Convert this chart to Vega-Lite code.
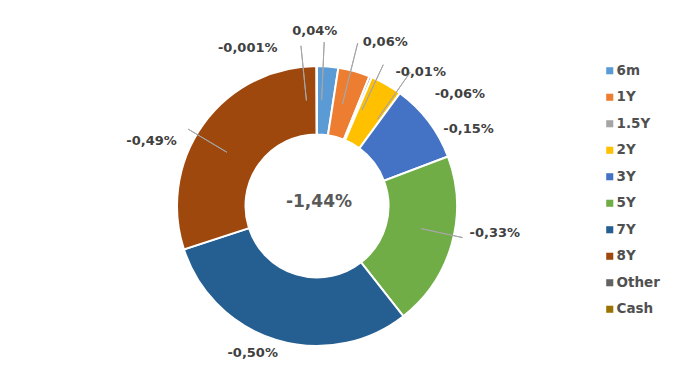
{
  "$schema": "https://vega.github.io/schema/vega-lite/v6.json",
  "width": 634,
  "height": 364,
  "autosize": {"type": "none"},
  "padding": {"left": 0, "top": 24, "right": 47, "bottom": 0},
  "background": "white",
  "config": {"view": {"stroke": null}},
  "layer": [
    {
      "data": {"values": [
        {"name": "6m", "order": 1, "value": 0.04, "label": "0,04%"},
        {"name": "1Y", "order": 2, "value": 0.06, "label": "0,06%"},
        {"name": "1.5Y", "order": 3, "value": 0.005, "label": "-0,01%"},
        {"name": "2Y", "order": 4, "value": 0.06, "label": "-0,06%"},
        {"name": "3Y", "order": 5, "value": 0.15, "label": "-0,15%"},
        {"name": "5Y", "order": 6, "value": 0.33, "label": "-0,33%"},
        {"name": "7Y", "order": 7, "value": 0.50, "label": "-0,50%"},
        {"name": "8Y", "order": 8, "value": 0.49, "label": "-0,49%"},
        {"name": "Other", "order": 9, "value": 0.001, "label": "-0,001%"},
        {"name": "Cash", "order": 10, "value": 0, "label": ""}
      ]},
      "transform": [
        {"fold": ["value", "value"], "as": ["half", "v"]},
        {"window": [{"op": "row_number", "as": "rn"}], "groupby": ["name"]},
        {"stack": "v", "groupby": [], "sort": [{"field": "order", "order": "ascending"}, {"field": "rn", "order": "ascending"}], "offset": "normalize", "as": ["s0", "s1"]}
      ],
      "resolve": {"scale": {"theta": "independent"}},
      "layer": [
        {
          "transform": [{"filter": "datum.rn === 1"}],
          "mark": {"type": "arc", "innerRadius": 71.5, "outerRadius": 140, "stroke": "white", "strokeWidth": 2},
          "encoding": {
            "theta": {"field": "value", "type": "quantitative", "stack": true},
            "order": {"field": "order", "type": "quantitative"},
            "color": {
              "field": "name", "type": "nominal",
              "scale": {
                "domain": ["6m", "1Y", "1.5Y", "2Y", "3Y", "5Y", "7Y", "8Y", "Other", "Cash"],
                "range": ["#5B9BD5", "#ED7D31", "#A5A5A5", "#FFC000", "#4472C4", "#70AD47", "#255E91", "#9E480E", "#636363", "#997300"]
              },
              "legend": {
                "orient": "none", "legendX": 603, "legendY": 40, "title": null,
                "symbolType": "square", "symbolSize": 50, "symbolStrokeWidth": 0,
                "labelFont": "DejaVu Sans", "labelFontSize": 13.5, "labelFontWeight": "bold", "labelColor": "#505050",
                "rowPadding": 11.5, "labelOffset": 0
              }
            }
          }
        },
        {
          "transform": [{"filter": "datum.rn === 2 && datum.name === 'Other'"}],
          "mark": {"type": "arc", "innerRadius": 106, "outerRadius": 161, "thetaOffset": -0.098, "theta2Offset": -0.098, "stroke": "#A6A6A6", "strokeWidth": 1, "fill": "transparent"},
          "encoding": {"theta": {"field": "s0", "type": "quantitative", "stack": null, "scale": {"domain": [0, 1]}}, "theta2": {"field": "s0"}}
        },
        {
          "transform": [{"filter": "datum.rn === 2 && datum.name === '6m'"}],
          "mark": {"type": "arc", "innerRadius": 106, "outerRadius": 164, "thetaOffset": -0.033, "theta2Offset": -0.033, "stroke": "#A6A6A6", "strokeWidth": 1, "fill": "transparent"},
          "encoding": {"theta": {"field": "s0", "type": "quantitative", "stack": null, "scale": {"domain": [0, 1]}}, "theta2": {"field": "s0"}}
        },
        {
          "transform": [{"filter": "datum.rn === 2 && datum.name === '1Y'"}],
          "mark": {"type": "arc", "innerRadius": 105, "outerRadius": 168, "thetaOffset": -0.024, "theta2Offset": -0.024, "stroke": "#A6A6A6", "strokeWidth": 1, "fill": "transparent"},
          "encoding": {"theta": {"field": "s0", "type": "quantitative", "stack": null, "scale": {"domain": [0, 1]}}, "theta2": {"field": "s0"}}
        },
        {
          "transform": [{"filter": "datum.rn === 2 && datum.name === '1.5Y'"}],
          "mark": {"type": "arc", "innerRadius": 106, "outerRadius": 156, "thetaOffset": 0.045, "theta2Offset": 0.045, "stroke": "#A6A6A6", "strokeWidth": 1, "fill": "transparent"},
          "encoding": {"theta": {"field": "s0", "type": "quantitative", "stack": null, "scale": {"domain": [0, 1]}}, "theta2": {"field": "s0"}}
        },
        {
          "transform": [{"filter": "datum.rn === 2 && datum.name === '2Y'"}],
          "mark": {"type": "arc", "innerRadius": 106, "outerRadius": 163, "thetaOffset": 0.09, "theta2Offset": 0.09, "stroke": "#A6A6A6", "strokeWidth": 1, "fill": "transparent"},
          "encoding": {"theta": {"field": "s0", "type": "quantitative", "stack": null, "scale": {"domain": [0, 1]}}, "theta2": {"field": "s0"}}
        },
        {
          "transform": [{"filter": "datum.rn === 2 && datum.name === '5Y'"}],
          "mark": {"type": "arc", "innerRadius": 107, "outerRadius": 149, "thetaOffset": -0.059, "theta2Offset": -0.059, "stroke": "#A6A6A6", "strokeWidth": 1, "fill": "transparent"},
          "encoding": {"theta": {"field": "s0", "type": "quantitative", "stack": null, "scale": {"domain": [0, 1]}}, "theta2": {"field": "s0"}}
        },
        {
          "transform": [{"filter": "datum.rn === 2 && datum.name === '8Y'"}],
          "mark": {"type": "arc", "innerRadius": 105, "outerRadius": 150, "thetaOffset": -0.088, "theta2Offset": -0.088, "stroke": "#A6A6A6", "strokeWidth": 1, "fill": "transparent"},
          "encoding": {"theta": {"field": "s0", "type": "quantitative", "stack": null, "scale": {"domain": [0, 1]}}, "theta2": {"field": "s0"}}
        },
        {
          "transform": [{"filter": "datum.rn === 2 && datum.name === 'Other'"}],
          "mark": {"type": "text", "radius": 140, "dx": -69, "dy": -18, "font": "DejaVu Sans", "fontWeight": "bold", "fontSize": 13, "color": "#404040"},
          "encoding": {"theta": {"field": "s0", "type": "quantitative", "stack": null, "scale": {"domain": [0, 1]}}, "text": {"field": "label"}}
        },
        {
          "transform": [{"filter": "datum.rn === 2 && datum.name === '6m'"}],
          "mark": {"type": "text", "radius": 140, "dx": -13, "dy": -35, "font": "DejaVu Sans", "fontWeight": "bold", "fontSize": 13, "color": "#404040"},
          "encoding": {"theta": {"field": "s0", "type": "quantitative", "stack": null, "scale": {"domain": [0, 1]}}, "text": {"field": "label"}}
        },
        {
          "transform": [{"filter": "datum.rn === 2 && datum.name === '1Y'"}],
          "mark": {"type": "text", "radius": 140, "dx": 31, "dy": -29, "font": "DejaVu Sans", "fontWeight": "bold", "fontSize": 13, "color": "#404040"},
          "encoding": {"theta": {"field": "s0", "type": "quantitative", "stack": null, "scale": {"domain": [0, 1]}}, "text": {"field": "label"}}
        },
        {
          "transform": [{"filter": "datum.rn === 2 && datum.name === '1.5Y'"}],
          "mark": {"type": "text", "radius": 140, "dx": 50, "dy": -5, "font": "DejaVu Sans", "fontWeight": "bold", "fontSize": 13, "color": "#404040"},
          "encoding": {"theta": {"field": "s0", "type": "quantitative", "stack": null, "scale": {"domain": [0, 1]}}, "text": {"field": "label"}}
        },
        {
          "transform": [{"filter": "datum.rn === 2 && datum.name === '2Y'"}],
          "mark": {"type": "text", "radius": 140, "dx": 73.5, "dy": 10, "font": "DejaVu Sans", "fontWeight": "bold", "fontSize": 13, "color": "#404040"},
          "encoding": {"theta": {"field": "s0", "type": "quantitative", "stack": null, "scale": {"domain": [0, 1]}}, "text": {"field": "label"}}
        },
        {
          "transform": [{"filter": "datum.rn === 2 && datum.name === '3Y'"}],
          "mark": {"type": "text", "radius": 140, "dx": 40, "dy": 8, "font": "DejaVu Sans", "fontWeight": "bold", "fontSize": 13, "color": "#404040"},
          "encoding": {"theta": {"field": "s0", "type": "quantitative", "stack": null, "scale": {"domain": [0, 1]}}, "text": {"field": "label"}}
        },
        {
          "transform": [{"filter": "datum.rn === 2 && datum.name === '5Y'"}],
          "mark": {"type": "text", "radius": 140, "dx": 43, "dy": -11, "font": "DejaVu Sans", "fontWeight": "bold", "fontSize": 13, "color": "#404040"},
          "encoding": {"theta": {"field": "s0", "type": "quantitative", "stack": null, "scale": {"domain": [0, 1]}}, "text": {"field": "label"}}
        },
        {
          "transform": [{"filter": "datum.rn === 2 && datum.name === '7Y'"}],
          "mark": {"type": "text", "radius": 140, "dx": -23.5, "dy": 13, "font": "DejaVu Sans", "fontWeight": "bold", "fontSize": 13, "color": "#404040"},
          "encoding": {"theta": {"field": "s0", "type": "quantitative", "stack": null, "scale": {"domain": [0, 1]}}, "text": {"field": "label"}}
        },
        {
          "transform": [{"filter": "datum.rn === 2 && datum.name === '8Y'"}],
          "mark": {"type": "text", "radius": 140, "dx": -52, "dy": 17, "font": "DejaVu Sans", "fontWeight": "bold", "fontSize": 13, "color": "#404040"},
          "encoding": {"theta": {"field": "s0", "type": "quantitative", "stack": null, "scale": {"domain": [0, 1]}}, "text": {"field": "label"}}
        }
      ]
    },
    {
      "data": {"values": [{"total": "-1,44%"}]},
      "mark": {"type": "text", "font": "DejaVu Sans", "fontWeight": "bold", "fontSize": 17, "color": "#595959", "dx": 2, "dy": -4},
      "encoding": {"text": {"field": "total"}}
    }
  ]
}
